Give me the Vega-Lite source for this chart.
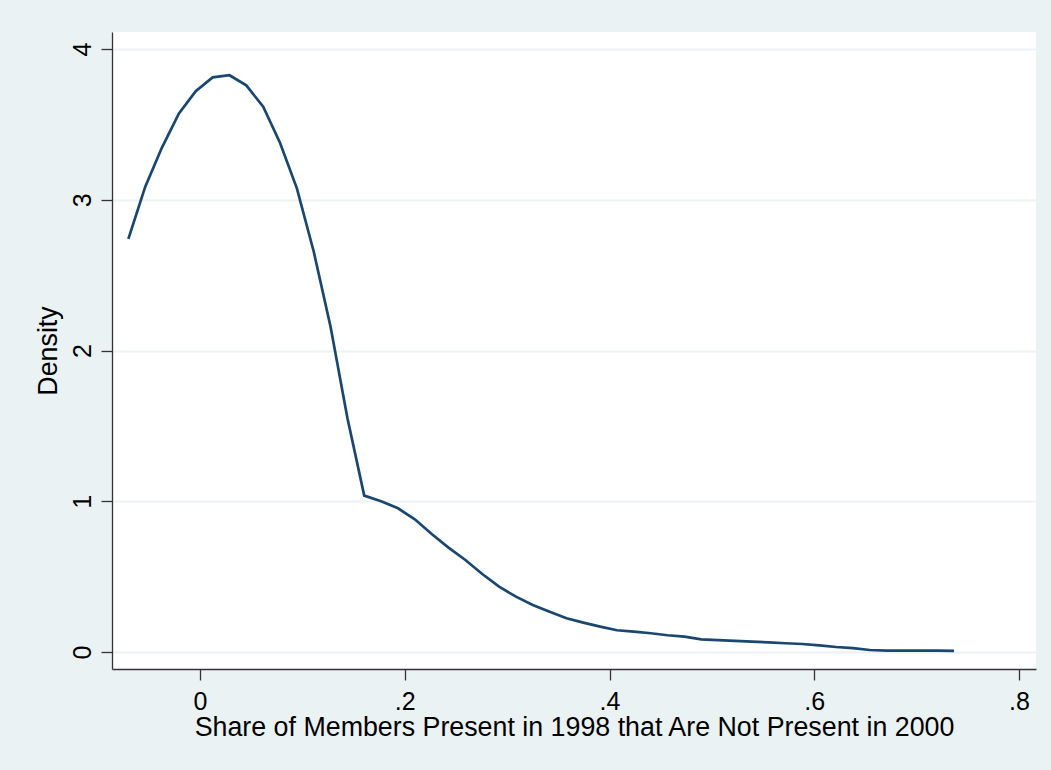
{
  "$schema": "https://vega.github.io/schema/vega-lite/v6.json",
  "width": 924,
  "height": 637,
  "autosize": {"type": "none"},
  "padding": {"left": 112, "top": 32, "right": 15, "bottom": 101},
  "background": "#EAF2F3",
  "config": {
    "view": {"fill": "white", "stroke": null},
    "font": "Liberation Sans"
  },
  "data": {
    "values": [
      {"x": -0.0700, "d": 2.740},
      {"x": -0.0535, "d": 3.087},
      {"x": -0.0371, "d": 3.348},
      {"x": -0.0206, "d": 3.573},
      {"x": -0.0042, "d": 3.721},
      {"x": 0.0123, "d": 3.812},
      {"x": 0.0288, "d": 3.826},
      {"x": 0.0452, "d": 3.759},
      {"x": 0.0617, "d": 3.617},
      {"x": 0.0781, "d": 3.378},
      {"x": 0.0946, "d": 3.076},
      {"x": 0.1111, "d": 2.655},
      {"x": 0.1275, "d": 2.158},
      {"x": 0.1440, "d": 1.550},
      {"x": 0.1604, "d": 1.037},
      {"x": 0.1769, "d": 1.000},
      {"x": 0.1934, "d": 0.953},
      {"x": 0.2098, "d": 0.880},
      {"x": 0.2263, "d": 0.783},
      {"x": 0.2427, "d": 0.692},
      {"x": 0.2592, "d": 0.610},
      {"x": 0.2757, "d": 0.517},
      {"x": 0.2921, "d": 0.433},
      {"x": 0.3086, "d": 0.367},
      {"x": 0.3250, "d": 0.312},
      {"x": 0.3415, "d": 0.267},
      {"x": 0.3580, "d": 0.224},
      {"x": 0.3744, "d": 0.195},
      {"x": 0.3909, "d": 0.168},
      {"x": 0.4073, "d": 0.144},
      {"x": 0.4238, "d": 0.135},
      {"x": 0.4403, "d": 0.124},
      {"x": 0.4567, "d": 0.111},
      {"x": 0.4732, "d": 0.102},
      {"x": 0.4896, "d": 0.084},
      {"x": 0.5061, "d": 0.078},
      {"x": 0.5226, "d": 0.073},
      {"x": 0.5390, "d": 0.068},
      {"x": 0.5555, "d": 0.064},
      {"x": 0.5719, "d": 0.058},
      {"x": 0.5884, "d": 0.053},
      {"x": 0.6049, "d": 0.044},
      {"x": 0.6213, "d": 0.033},
      {"x": 0.6378, "d": 0.025},
      {"x": 0.6542, "d": 0.013},
      {"x": 0.6707, "d": 0.009},
      {"x": 0.6872, "d": 0.009},
      {"x": 0.7036, "d": 0.009},
      {"x": 0.7201, "d": 0.009},
      {"x": 0.7365, "d": 0.007}
    ]
  },
  "mark": {"type": "line", "color": "#1A476F", "strokeWidth": 2.7, "clip": true},
  "encoding": {
    "x": {
      "field": "x",
      "type": "quantitative",
      "scale": {"domain": [-0.086, 0.8166], "nice": false, "zero": false},
      "axis": {
        "title": "Share of Members Present in 1998 that Are Not Present in 2000",
        "values": [0, 0.2, 0.4, 0.6, 0.8],
        "labelExpr": "datum.value == 0 ? '0' : replace(format(datum.value, '.1f'), '0.', '.')",
        "grid": false,
        "domainColor": "#333333",
        "domainWidth": 1.3,
        "tickColor": "#333333",
        "tickWidth": 1.3,
        "tickSize": 11,
        "labelFontSize": 25,
        "labelColor": "black",
        "labelPadding": 9,
        "labelFlush": false,
        "titleFontSize": 26.8,
        "titleFontWeight": "normal",
        "titleColor": "black",
        "titlePadding": 0
      }
    },
    "y": {
      "field": "d",
      "type": "quantitative",
      "scale": {"domain": [-0.113, 4.113], "nice": false, "zero": false},
      "axis": {
        "title": "Density",
        "values": [0, 1, 2, 3, 4],
        "grid": true,
        "gridColor": "#EAF2F3",
        "gridWidth": 2,
        "domainColor": "#333333",
        "domainWidth": 1.3,
        "tickColor": "#333333",
        "tickWidth": 1.3,
        "tickSize": 11,
        "labelFontSize": 25,
        "labelColor": "black",
        "labelAngle": -90,
        "labelAlign": "center",
        "labelBaseline": "alphabetic",
        "labelPadding": 11,
        "labelFlush": false,
        "titleFontSize": 26.8,
        "titleFontWeight": "normal",
        "titleColor": "black",
        "titlePadding": 8
      }
    }
  }
}
